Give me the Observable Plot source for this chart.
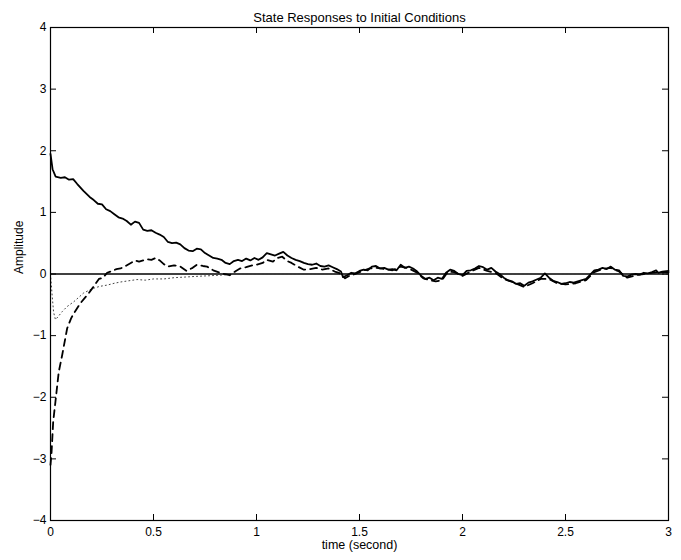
<!DOCTYPE html>
<html><head><meta charset="utf-8">
<script src="https://cdn.jsdelivr.net/npm/d3@7"></script>
<script src="https://cdn.jsdelivr.net/npm/@observablehq/plot@0.6"></script>
<style>body{margin:0;background:#fff} svg{display:block}</style>
</head><body><div id="chart"></div><script>
const titleText = "State Responses to Initial Conditions";
const xLabel = "time (second)";
const yLabel = "Amplitude";
const xTicks = [0, 0.5, 1, 1.5, 2, 2.5, 3];
const yTicks = [-4, -3, -2, -1, 0, 1, 2, 3, 4];

// State 1 (solid)
const solidT = [0,0.01,0.025,0.05,0.07,0.09,0.11,0.13,0.16,0.19,0.21,0.23,0.25,0.27,0.29,0.31,0.33,0.35,0.37,0.39,0.41,0.43,0.45,0.47,0.49,0.51,0.53,0.55,0.57,0.59,0.61,0.63,0.65,0.67,0.69,0.71,0.73,0.75,0.77,0.79,0.81,0.83,0.85,0.87,0.89,0.91,0.93,0.95,0.97,0.99,1.01,1.03,1.05,1.07,1.09,1.11,1.13,1.15,1.17,1.19,1.21,1.23,1.25,1.27,1.29,1.31,1.33,1.35,1.37,1.39,1.41,1.42,1.44,1.46,1.48,1.50,1.52,1.54,1.56,1.58,1.60,1.62,1.64,1.66,1.68,1.70,1.72,1.74,1.76,1.78,1.80,1.82,1.84,1.86,1.88,1.90,1.92,1.94,1.96,1.98,2.00,2.02,2.04,2.06,2.08,2.10,2.12,2.14,2.16,2.18,2.20,2.22,2.24,2.26,2.28,2.30,2.32,2.34,2.36,2.38,2.40,2.42,2.44,2.46,2.48,2.50,2.52,2.54,2.56,2.58,2.60,2.62,2.64,2.66,2.68,2.70,2.72,2.74,2.76,2.78,2.80,2.82,2.84,2.86,2.88,2.90,2.92,2.94,2.95,2.97,3.00];
const solidY = [1.95,1.70,1.58,1.56,1.57,1.53,1.54,1.46,1.35,1.25,1.20,1.14,1.13,1.05,1.02,0.97,0.92,0.90,0.86,0.80,0.85,0.83,0.72,0.70,0.71,0.67,0.64,0.60,0.52,0.50,0.51,0.48,0.42,0.38,0.37,0.41,0.40,0.34,0.30,0.26,0.25,0.23,0.18,0.16,0.21,0.23,0.21,0.25,0.22,0.26,0.23,0.27,0.34,0.32,0.30,0.33,0.36,0.30,0.26,0.23,0.21,0.18,0.16,0.15,0.17,0.13,0.12,0.14,0.11,0.08,0.04,-0.05,-0.02,0.02,0.01,0.05,0.07,0.06,0.12,0.13,0.09,0.10,0.07,0.08,0.06,0.15,0.10,0.12,0.09,0.04,-0.03,-0.08,-0.06,-0.10,-0.06,-0.08,0.02,0.07,0.05,0.00,-0.02,0.05,0.06,0.09,0.13,0.11,0.07,0.10,0.04,0.00,-0.06,-0.10,-0.12,-0.16,-0.15,-0.19,-0.14,-0.12,-0.09,-0.06,0.01,-0.06,-0.11,-0.13,-0.16,-0.15,-0.13,-0.14,-0.12,-0.10,-0.08,-0.01,0.06,0.07,0.10,0.08,0.12,0.07,0.06,-0.03,-0.04,-0.01,0.00,-0.01,0.02,0.01,0.03,0.06,0.02,0.04,0.05];

// State 2 (dashed)
const dashT = [0,0.005,0.013,0.024,0.04,0.057,0.081,0.10,0.113,0.146,0.186,0.21,0.235,0.255,0.275,0.30,0.32,0.34,0.36,0.39,0.41,0.43,0.45,0.47,0.49,0.51,0.53,0.55,0.57,0.60,0.63,0.66,0.69,0.71,0.74,0.76,0.79,0.83,0.87,0.90,0.92,0.95,0.98,1.00,1.03,1.05,1.08,1.10,1.125,1.15,1.17,1.20,1.23,1.26,1.29,1.32,1.35,1.38,1.40,1.43,1.45,1.48,1.50,1.55,1.58,1.62,1.66,1.70,1.74,1.78,1.81,1.84,1.87,1.90,1.93,1.96,2.00,2.04,2.08,2.12,2.16,2.20,2.25,2.30,2.34,2.38,2.42,2.46,2.50,2.55,2.60,2.64,2.68,2.72,2.76,2.80,2.84,2.88,2.92,2.96,3.00];
const dashY = [-3.1,-2.9,-2.4,-2.07,-1.59,-1.31,-0.88,-0.72,-0.64,-0.47,-0.31,-0.20,-0.08,-0.06,0.02,0.05,0.08,0.09,0.12,0.18,0.22,0.20,0.22,0.24,0.23,0.26,0.22,0.16,0.12,0.14,0.12,0.05,0.10,0.15,0.13,0.12,0.06,0.01,-0.02,0.05,0.09,0.11,0.14,0.15,0.18,0.23,0.20,0.26,0.28,0.21,0.18,0.12,0.07,0.08,0.10,0.07,0.09,0.04,0.02,-0.07,-0.03,0.00,0.03,0.09,0.10,0.08,0.06,0.12,0.09,0.02,-0.07,-0.10,-0.12,-0.10,0.04,0.03,-0.03,0.04,0.10,0.05,0.02,-0.08,-0.14,-0.21,-0.15,-0.08,-0.08,-0.15,-0.17,-0.15,-0.10,0.03,0.08,0.10,0.04,-0.06,-0.02,0.00,0.02,0.03,0.03];

// State 3 (dotted)
const dotT = [0,0.008,0.015,0.024,0.035,0.057,0.08,0.113,0.14,0.16,0.19,0.21,0.24,0.275,0.31,0.34,0.38,0.42,0.46,0.50,0.55,0.60,0.65,0.70,0.76,0.82,0.86,0.95,1.1,1.5,2.0,2.5,3.0];
const dotY = [0.0,-0.35,-0.62,-0.74,-0.70,-0.61,-0.53,-0.45,-0.37,-0.31,-0.26,-0.23,-0.20,-0.18,-0.15,-0.13,-0.11,-0.09,-0.10,-0.08,-0.08,-0.06,-0.05,-0.04,-0.03,-0.02,-0.01,0.0,0.0,0.0,0.0,0.0,0.0];

const W = 681, H = 560, mL = 50, mR = 13, mT = 27, mB = 40;
const fw = W - mL - mR, fh = H - mT - mB;
const series = (ts, ys) => ts.map((t, i) => ({t, v: ys[i]}));

const chart = Plot.plot({
  width: W, height: H,
  marginLeft: mL, marginRight: mR, marginTop: mT, marginBottom: mB,
  style: {fontFamily: "'Liberation Sans', Arial, sans-serif", fontSize: "12px", background: "#fff", color: "#000"},
  x: {domain: [0, 3], label: null},
  y: {domain: [-4, 4], label: null},
  marks: [
    Plot.axisX(xTicks, {tickSize: 0, tickPadding: 7, label: null, tickFormat: d => String(d), fontSize: 12}),
    Plot.axisY(yTicks, {tickSize: 0, tickPadding: 4, label: null, tickFormat: d3.format("d"), fontSize: 12}),
    Plot.tickX(xTicks, {x: d => d, insetTop: fh - 6, stroke: "#000"}),
    Plot.tickX(xTicks, {x: d => d, insetBottom: fh - 6, stroke: "#000"}),
    Plot.tickY(yTicks, {y: d => d, insetRight: fw - 6, stroke: "#000"}),
    Plot.tickY(yTicks, {y: d => d, insetLeft: fw - 6, stroke: "#000"}),
    Plot.ruleY([0], {stroke: "#000", strokeWidth: 1.6}),
    Plot.line(series(dotT, dotY), {x: "t", y: "v", stroke: "#444", strokeWidth: 1, strokeDasharray: "1,3"}),
    Plot.line(series(dashT, dashY), {x: "t", y: "v", stroke: "#000", strokeWidth: 1.8, strokeDasharray: "7,5"}),
    Plot.line(series(solidT, solidY), {x: "t", y: "v", stroke: "#000", strokeWidth: 1.8}),
    Plot.frame({stroke: "#000", strokeWidth: 1.2}),
    Plot.text([titleText], {frameAnchor: "top", dy: -15, fontSize: 13}),
    Plot.text([xLabel], {frameAnchor: "bottom", dy: 28, fontSize: 12.5}),
    Plot.text([yLabel], {frameAnchor: "left", dx: -31, rotate: -90, fontSize: 12})
  ]
});
document.getElementById("chart").appendChild(chart);
</script></body></html>
